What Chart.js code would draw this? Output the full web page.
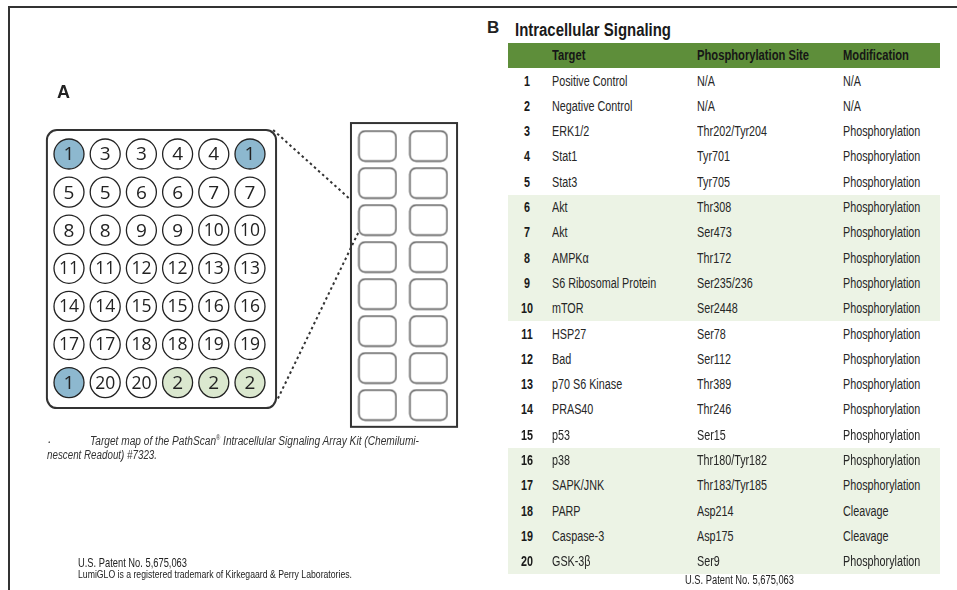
<!DOCTYPE html>
<html>
<head>
<meta charset="utf-8">
<script src="https://cdn.jsdelivr.net/npm/chart.js@4.4.1/dist/chart.umd.min.js"></script>
<style>
body{margin:0;width:957px;height:590px;overflow:hidden;background:#fff;position:relative;
  font-family:"Liberation Sans",Arial,sans-serif;color:#222}
#frame{position:absolute;left:8px;top:6px;width:980px;height:620px;border-top:2px solid #333;border-left:2px solid #333}
#plate{position:absolute;left:0;top:0}
.t{position:absolute;white-space:nowrap;line-height:16px;transform-origin:0 50%}
.big{font-weight:bold;font-size:18px}
.cap{font-style:italic;font-size:12.5px;color:#333}
.row{position:absolute;left:508px;width:432px;height:25.3px;font-size:14px;line-height:25.3px;color:#262626}
.row span{position:absolute;top:0;transform:scaleX(.77);transform-origin:0 50%}
.row .n{left:0;width:38px;text-align:center;font-weight:bold;color:#1a1a1a;transform-origin:50% 50%}
.row .a{left:44px}
.row .b{left:189px}
.row .c{left:335px}
.hdr{background:#5e8e3a;font-weight:bold;color:#161616;top:43px;height:25px;line-height:25px}
.hdr span{transform:scaleX(.8)}
.band{background:#ecf3e5}
</style>
</head>
<body>
<div id="frame"></div>
<canvas id="plate" width="480" height="590"></canvas>

<div class="t big" style="left:57px;top:84px">A</div>
<div class="t cap" style="left:48px;top:431px">.</div>
<div class="t cap" data-w="329" style="left:90px;top:430px">Target map of the PathScan<sup style="font-size:7px">®</sup> Intracellular Signaling Array Kit (Chemilumi-</div>
<div class="t cap" data-w="110" style="left:47px;top:447px">nescent Readout) #7323.</div>
<div class="t" data-w="109" style="left:78px;top:555px;font-size:13px">U.S. Patent No. 5,675,063</div>
<div class="t" data-w="274" style="left:78px;top:568px;font-size:11.5px;line-height:13px">LumiGLO is a registered trademark of Kirkegaard &amp; Perry Laboratories.</div>

<div class="t big" style="left:487px;top:20px;font-size:17px">B</div>
<div class="t" data-w="156" style="left:515px;top:21px;font-size:17.5px;font-weight:bold;line-height:18px;color:#1a1a1a">Intracellular Signaling</div>
<div id="table"></div>
<div class="t" data-w="109" style="left:685px;top:572px;font-size:12.5px">U.S. Patent No. 5,675,063</div>

<script>
// plate layout: target number printed in each well, row by row
const wellRows = [
  [1, 3, 3, 4, 4, 1],
  [5, 5, 6, 6, 7, 7],
  [8, 8, 9, 9, 10, 10],
  [11, 11, 12, 12, 13, 13],
  [14, 14, 15, 15, 16, 16],
  [17, 17, 18, 18, 19, 19],
  [1, 20, 20, 2, 2, 2]
];
// array slide: 2 columns x 8 rows of wells
const slideCols = [0, 1];
const slideRows = [0, 1, 2, 3, 4, 5, 6, 7];

// table B
const targetNums = [1,2,3,4,5,6,7,8,9,10,11,12,13,14,15,16,17,18,19,20];
const targets = ['Positive Control','Negative Control','ERK1/2','Stat1','Stat3','Akt','Akt','AMPK\u03b1',
  'S6 Ribosomal Protein','mTOR','HSP27','Bad','p70 S6 Kinase','PRAS40','p53','p38','SAPK/JNK','PARP','Caspase-3','GSK-3\u03b2'];
const sites = ['N/A','N/A','Thr202/Tyr204','Tyr701','Tyr705','Thr308','Ser473','Thr172','Ser235/236','Ser2448',
  'Ser78','Ser112','Thr389','Thr246','Ser15','Thr180/Tyr182','Thr183/Tyr185','Asp214','Asp175','Ser9'];
const mods = ['N/A','N/A','Phosphorylation','Phosphorylation','Phosphorylation','Phosphorylation','Phosphorylation',
  'Phosphorylation','Phosphorylation','Phosphorylation','Phosphorylation','Phosphorylation','Phosphorylation',
  'Phosphorylation','Phosphorylation','Phosphorylation','Phosphorylation','Cleavage','Cleavage','Phosphorylation'];

const BLUE = '#8db8cf', GREEN = '#dbe8cf';

// ---- table ----
function renderTable(){
  const box = document.getElementById('table');
  const hdr = document.createElement('div');
  hdr.className = 'row hdr';
  hdr.innerHTML = '<span class="a">Target</span><span class="b">Phosphorylation Site</span><span class="c">Modification</span>';
  box.appendChild(hdr);
  targetNums.forEach((n, i) => {
    const div = document.createElement('div');
    div.className = 'row' + (Math.floor(i / 5) % 2 === 1 ? ' band' : '');
    div.style.top = (68.5 + i * 25.3) + 'px';
    div.innerHTML = `<span class="n">${n}</span><span class="a">${targets[i]}</span><span class="b">${sites[i]}</span><span class="c">${mods[i]}</span>`;
    box.appendChild(div);
  });
}
renderTable();

// squeeze loose texts to the width they take in the figure (narrow typeface)
document.querySelectorAll('[data-w]').forEach(el => {
  const w = el.getBoundingClientRect().width;
  el.style.transform = 'scaleX(' + (Number(el.dataset.w) / w) + ')';
});

// ---- plate chart ----
const wellPoints = [];
wellRows.forEach((row, r) => row.forEach((v, c) => wellPoints.push({x: c, y: r, label: v})));
const slidePoints = [];
slideRows.forEach(r => slideCols.forEach(c => slidePoints.push({x: c, y: r})));

// rounded rectangle used as point style for the slide wells
const sq = document.createElement('canvas');
sq.width = 40; sq.height = 33;
(function(){
  const g = sq.getContext('2d');
  g.strokeStyle = '#555'; g.lineWidth = 1.4;
  g.beginPath(); g.roundRect(1.5, 1.5, 37, 30, 6); g.stroke();
})();

const platePlugin = {
  id: 'plate',
  beforeDatasetsDraw(chart){
    const {ctx, scales:{x, y, xa, ya}} = chart;
    ctx.save();
    ctx.strokeStyle = '#333'; ctx.lineWidth = 2;
    // plate outline
    const l = x.getPixelForValue(-0.61), r = x.getPixelForValue(5.72);
    const t = y.getPixelForValue(-0.63), b = y.getPixelForValue(6.67);
    ctx.beginPath(); ctx.roundRect(l, t, r - l, b - t, 10); ctx.stroke();
    // slide outline
    const sl = xa.getPixelForValue(-0.52), sr = xa.getPixelForValue(1.56);
    const st = ya.getPixelForValue(-0.62), sb = ya.getPixelForValue(7.59);
    ctx.strokeRect(sl, st, sr - sl, sb - st);
    // dotted zoom lines
    ctx.setLineDash([2.5, 3]);
    ctx.beginPath();
    ctx.moveTo(x.getPixelForValue(5.64), y.getPixelForValue(-0.63));
    ctx.lineTo(xa.getPixelForValue(-0.52), ya.getPixelForValue(1.46));
    ctx.moveTo(xa.getPixelForValue(-0.38), ya.getPixelForValue(2.35));
    ctx.lineTo(x.getPixelForValue(5.75), y.getPixelForValue(6.46));
    ctx.stroke();
    ctx.restore();
  },
  afterDatasetsDraw(chart){
    const ctx = chart.ctx;
    const meta = chart.getDatasetMeta(0);
    ctx.save();
    ctx.fillStyle = '#222';
    ctx.textAlign = 'center'; ctx.textBaseline = 'middle';
    meta.data.forEach((pt, i) => {
      const lab = String(wellPoints[i].label);
      ctx.font = (lab.length > 1 ? '17.5px' : '19px') + ' "Open Sans", "Noto Sans", sans-serif';
      ctx.fillText(lab, pt.x, pt.y + 1);
    });
    ctx.restore();
  }
};

new Chart(document.getElementById('plate'), {
  type: 'scatter',
  data: {
    datasets: [
      {
        data: wellPoints,
        pointRadius: 15, pointHoverRadius: 15,
        borderWidth: 1.3, borderColor: '#222',
        backgroundColor: wellPoints.map(p => p.label === 1 ? BLUE : p.label === 2 ? GREEN : '#fff'),
        xAxisID: 'x', yAxisID: 'y'
      },
      {
        data: slidePoints,
        pointStyle: sq, pointRadius: 15,
        xAxisID: 'xa', yAxisID: 'ya'
      }
    ]
  },
  options: {
    responsive: false, animation: false,
    layout: {padding: 0, autoPadding: false},
    plugins: {legend: {display: false}, tooltip: {enabled: false}},
    events: [],
    clip: false,
    scales: {
      x:  {type: 'linear', position: 'bottom', min: -1.906, max: 11.354, display: false},
      y:  {type: 'linear', position: 'left', min: -4.042, max: 11.444, reverse: true, display: false},
      xa: {type: 'linear', axis: 'x', position: 'bottom', min: -7.402, max: 2.010, display: false},
      ya: {type: 'linear', axis: 'y', position: 'left', min: -3.946, max: 12.0, reverse: true, display: false}
    }
  },
  plugins: [platePlugin]
});
</script>
</body>
</html>
